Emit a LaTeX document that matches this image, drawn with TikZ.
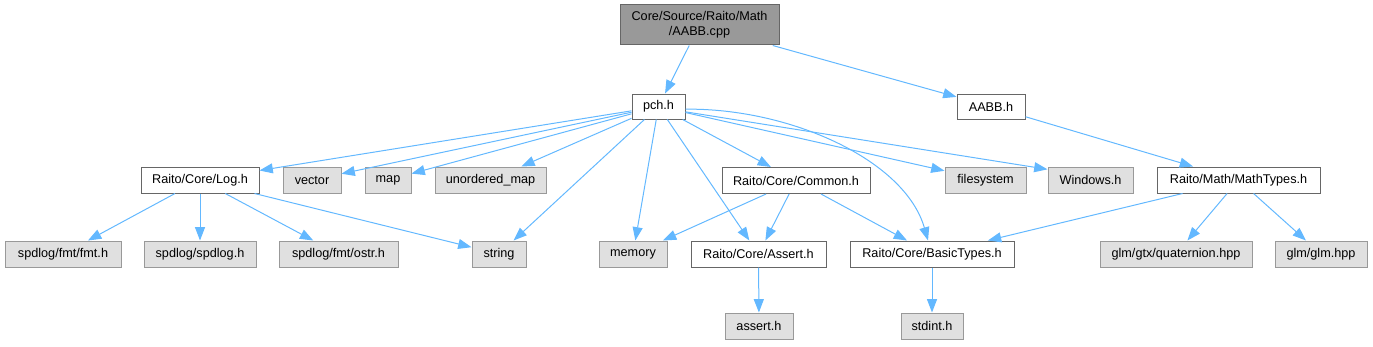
\documentclass[tikz,border=0pt]{standalone}
\usepackage{fontspec}
\setmainfont{Liberation Sans}
\usetikzlibrary{arrows.meta}
\definecolor{edgeblue}{HTML}{63B8FF}
\definecolor{rootfill}{HTML}{999999}
\definecolor{darkborder}{HTML}{666666}
\definecolor{sysfill}{HTML}{E0E0E0}
\definecolor{sysborder}{HTML}{999999}
\begin{document}
\begin{tikzpicture}[x=0.75pt,y=-0.75pt,
  base/.style={rectangle,inner sep=0pt,line width=0.75pt,minimum height=26*0.75pt,
    font=\fontsize{9.5}{11}\selectfont},
  w/.style={minimum width=#1*0.75pt},
  hdr/.style={base,fill=white,draw=darkborder},
  sys/.style={base,fill=sysfill,draw=sysborder},
  root/.style={base,fill=rootfill,draw=darkborder,align=center,minimum height=40*0.75pt},
  dep/.style={draw=edgeblue,line width=0.75pt,-{Triangle[length=10pt,width=7.5pt]}}
]
\useasboundingbox (0,0) rectangle (1373,346);

% row 0
\node[root,w=159] (top) at (699.5,25) {Core/Source/Raito/Math\\/AABB.cpp};
% row 1
\node[hdr,w=53,minimum height=25*0.75pt] (pch) at (658.5,106.5) {pch.h};
\node[hdr,w=68,minimum height=25*0.75pt] (aabbh) at (991,106.5) {AABB.h};
% row 2
\node[hdr,w=118] (log) at (200,180) {Raito/Core/Log.h};
\node[sys,w=58] (vector) at (312,180) {vector};
\node[sys,w=46] (map) at (388,180) {map};
\node[sys,w=111] (umap) at (490.5,180) {unordered\_map};
\node[hdr,w=148] (common) at (796,180.5) {Raito/Core/Common.h};
\node[sys,w=81] (fs) at (985.5,180) {filesystem};
\node[sys,w=85] (win) at (1090.5,180) {Windows.h};
\node[hdr,w=163] (mtypes) at (1238.5,180) {Raito/Math/MathTypes.h};
% row 3
\node[sys,w=116] (fmt) at (63,254) {spdlog/fmt/fmt.h};
\node[sys,w=112] (spd) at (200,254) {spdlog/spdlog.h};
\node[sys,w=119] (ostr) at (338.5,254) {spdlog/fmt/ostr.h};
\node[sys,w=54] (string) at (499,254) {string};
\node[sys,w=68] (memory) at (633,254) {memory};
\node[hdr,w=135] (assert) at (758.5,254) {Raito/Core/Assert.h};
\node[hdr,w=164] (basic) at (932,254) {Raito/Core/BasicTypes.h};
\node[sys,w=152] (quat) at (1176,254) {glm/gtx/quaternion.hpp};
\node[sys,w=92] (glm) at (1321,254) {glm/glm.hpp};
% row 4
\node[sys,w=68] (asserth) at (759,326) {assert.h};
\node[sys,w=62] (stdint) at (932,326) {stdint.h};

% edges
\draw[dep] (top) -- (pch);
\draw[dep] (top) -- (aabbh);
\draw[dep] (pch) -- (log);
\draw[dep] (pch) -- (vector);
\draw[dep] (pch) -- (map);
\draw[dep] (pch) -- (umap);
\draw[dep] (pch) -- (string);
\draw[dep] (pch) -- (memory);
\draw[dep] (pch) -- (assert);
\draw[dep] (pch) -- (common);
\draw[dep] ([yshift=-2pt]pch.east) .. controls (790,108) and (905,160) .. ([xshift=-3pt]basic.north);
\draw[dep] (pch) -- (fs);
\draw[dep] ([yshift=-4pt]pch.east) -- ([yshift=8pt]win.west);
\draw[dep] (aabbh) -- (mtypes);
\draw[dep] (log) -- (fmt);
\draw[dep] (log) -- (spd);
\draw[dep] (log) -- (ostr);
\draw[dep] (log) -- (string);
\draw[dep] (common) -- (memory);
\draw[dep] (common) -- (assert);
\draw[dep] (common) -- (basic);
\draw[dep] (assert) -- (asserth);
\draw[dep] (basic) -- (stdint);
\draw[dep] (mtypes) -- (basic);
\draw[dep] (mtypes) -- (quat);
\draw[dep] (mtypes) -- (glm);
\end{tikzpicture}
\end{document}
